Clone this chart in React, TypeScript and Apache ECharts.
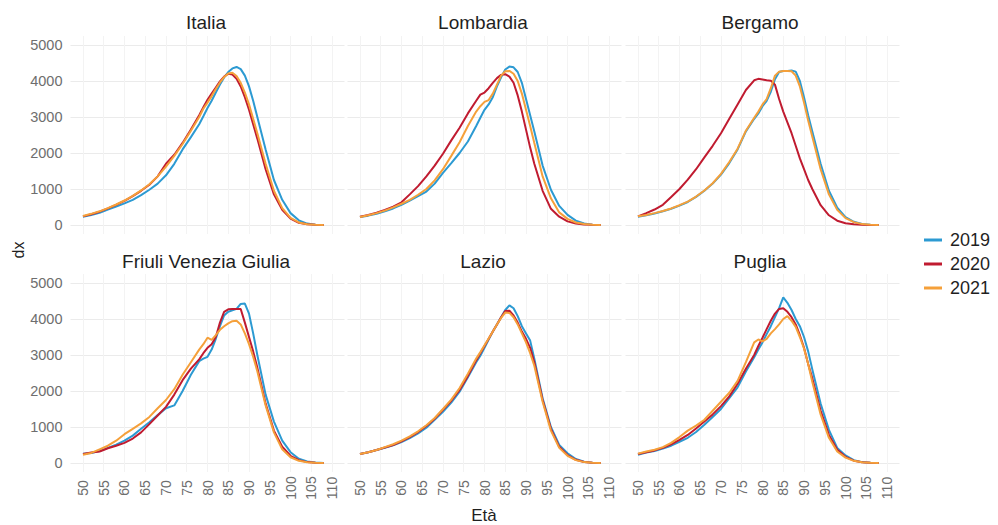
import React, { useEffect, useRef } from "react";
import * as echarts from "echarts";

// ages at which values were read (1-year steps around the peak)
const ages = [50, 52, 54, 56, 58, 60, 62, 64, 66, 68, 70, 72, 74, 76, 78, 79, 80, 81, 82, 83, 84, 85, 86, 87, 88, 89, 90, 91, 92, 94, 96, 98, 100, 102, 104, 106, 108];
const regions = ["Italia", "Lombardia", "Bergamo", "Friuli Venezia Giulia", "Lazio", "Puglia"];
const years = ["2019", "2020", "2021"];
const yearColors = ["#2c9ad2", "#c01b30", "#f5a03a"];
const xTicks = [50, 55, 60, 65, 70, 75, 80, 85, 90, 95, 100, 105, 110];
const yTicks = [0, 1000, 2000, 3000, 4000, 5000];

const italia2019 = [230, 280, 340, 430, 510, 600, 700, 830, 980, 1150, 1380, 1700, 2100, 2440, 2800, 3020, 3250, 3450, 3680, 3900, 4100, 4250, 4350, 4390, 4330, 4150, 3850, 3450, 3000, 2100, 1250, 700, 330, 130, 40, 10, 3];
const italia2020 = [240, 300, 370, 460, 560, 670, 800, 950, 1120, 1350, 1700, 1950, 2280, 2650, 3050, 3270, 3480, 3650, 3820, 3990, 4120, 4200, 4180, 4060, 3850, 3550, 3200, 2800, 2400, 1550, 850, 420, 180, 60, 20, 5, 2];
const italia2021 = [250, 310, 380, 470, 570, 680, 810, 960, 1130, 1350, 1620, 1920, 2250, 2620, 3000, 3230, 3400, 3580, 3780, 3960, 4110, 4210, 4230, 4140, 3950, 3680, 3350, 2950, 2550, 1700, 950, 470, 200, 70, 20, 5, 2];

const lombardia2019 = [220, 260, 310, 380, 460, 560, 680, 800, 930, 1150, 1450, 1720, 2000, 2320, 2750, 2980, 3200, 3350, 3550, 3850, 4100, 4320, 4400, 4380, 4250, 3950, 3500, 3050, 2600, 1650, 980, 530, 280, 120, 40, 10, 3];
const lombardia2020 = [230, 280, 340, 420, 510, 630, 850, 1080, 1350, 1650, 1980, 2350, 2700, 3100, 3450, 3620, 3680, 3800, 3950, 4080, 4170, 4190, 4120, 3950, 3600, 3150, 2650, 2150, 1700, 950, 450, 230, 100, 40, 12, 4, 1];
const lombardia2021 = [220, 270, 330, 400, 490, 590, 700, 840, 1000, 1240, 1550, 1920, 2300, 2750, 3150, 3300, 3420, 3470, 3650, 3900, 4150, 4270, 4280, 4200, 4000, 3650, 3200, 2750, 2280, 1350, 740, 350, 170, 70, 25, 8, 2];

const bergamo2019 = [230, 270, 320, 380, 450, 540, 640, 780, 950, 1150, 1400, 1720, 2100, 2600, 2950, 3100, 3300, 3450, 3700, 4050, 4250, 4280, 4280, 4290, 4260, 4000, 3550, 3050, 2600, 1700, 950, 480, 220, 90, 30, 10, 3];
const bergamo2020 = [240, 330, 430, 560, 780, 1000, 1260, 1550, 1880, 2200, 2550, 2950, 3350, 3750, 4020, 4060, 4040, 4020, 4010, 3900, 3500, 3150, 2850, 2550, 2200, 1850, 1550, 1250, 1000, 550, 270, 120, 50, 20, 8, 3, 1];
const bergamo2021 = [240, 280, 330, 390, 460, 550, 650, 790, 960, 1160, 1420, 1750, 2120, 2620, 2980, 3150, 3350, 3500, 3800, 4150, 4260, 4280, 4280, 4270, 4150, 3850, 3400, 2900, 2450, 1550, 850, 420, 190, 80, 25, 8, 2];

const friuli2019 = [260, 280, 330, 420, 510, 620, 760, 950, 1130, 1330, 1520, 1600, 2000, 2450, 2830, 2900, 2950, 3150, 3450, 3800, 4100, 4200, 4240, 4280, 4420, 4430, 4150, 3600, 3000, 1900, 1150, 620, 300, 120, 40, 12, 3];
const friuli2020 = [250, 290, 320, 410, 480, 560, 680, 850, 1080, 1320, 1560, 1900, 2300, 2620, 2880, 3050, 3200, 3300, 3500, 3900, 4200, 4270, 4280, 4280, 4280, 3900, 3500, 3100, 2650, 1650, 900, 450, 200, 80, 25, 8, 2];
const friuli2021 = [230, 280, 380, 480, 620, 800, 950, 1100, 1280, 1520, 1750, 2050, 2450, 2800, 3150, 3300, 3480, 3420, 3550, 3700, 3800, 3880, 3940, 3950, 3850, 3600, 3300, 2950, 2550, 1600, 850, 380, 160, 60, 20, 6, 2];

const lazio2019 = [250, 300, 360, 420, 490, 580, 690, 820, 980, 1200, 1420, 1680, 1980, 2380, 2800, 2980, 3200, 3430, 3650, 3850, 4050, 4250, 4380, 4300, 4080, 3800, 3600, 3400, 2900, 1800, 1000, 500, 270, 110, 35, 10, 3];
const lazio2020 = [250, 300, 360, 430, 500, 600, 720, 860, 1030, 1230, 1480, 1730, 2030, 2420, 2850, 3050, 3250, 3450, 3650, 3850, 4050, 4220, 4230, 4100, 3900, 3650, 3450, 3200, 2800, 1750, 950, 450, 220, 90, 30, 8, 2];
const lazio2021 = [250, 300, 360, 440, 520, 620, 740, 880, 1050, 1250, 1500, 1760, 2080, 2480, 2900, 3080, 3270, 3460, 3650, 3850, 4030, 4180, 4170, 4050, 3850, 3600, 3350, 3050, 2700, 1700, 900, 420, 200, 80, 25, 7, 2];

const puglia2019 = [230, 290, 330, 400, 480, 590, 700, 860, 1060, 1280, 1500, 1800, 2100, 2540, 2940, 3150, 3350, 3580, 3800, 4050, 4300, 4600, 4450, 4250, 4000, 3800, 3500, 3100, 2600, 1650, 920, 420, 210, 80, 25, 7, 2];
const puglia2020 = [250, 300, 350, 420, 520, 640, 780, 960, 1150, 1350, 1580, 1850, 2200, 2620, 3000, 3250, 3480, 3720, 3950, 4150, 4280, 4300, 4200, 4050, 3850, 3550, 3200, 2750, 2350, 1450, 780, 370, 170, 65, 20, 6, 2];
const puglia2021 = [260, 320, 370, 440, 560, 720, 900, 1040, 1200, 1450, 1700, 1950, 2280, 2800, 3350, 3430, 3380, 3450, 3600, 3720, 3850, 4000, 4080, 3950, 3780, 3500, 3180, 2750, 2250, 1350, 700, 320, 150, 60, 20, 6, 2];

const panelData = [
  [italia2019, italia2020, italia2021],
  [lombardia2019, lombardia2020, lombardia2021],
  [bergamo2019, bergamo2020, bergamo2021],
  [friuli2019, friuli2020, friuli2021],
  [lazio2019, lazio2020, lazio2021],
  [puglia2019, puglia2020, puglia2021],
];

const FONT = "Liberation Sans";

export default function App() {
  const ref = useRef<HTMLDivElement>(null);
  useEffect(() => {
    if (!ref.current) return;
    const chart = echarts.init(ref.current, null, { renderer: "svg" });
    const colLefts = [70.5, 347.5, 625.5];
    const rowTops = [36, 274];
    const W = 274;
    const H = 198;
    const titleX = [206, 483, 760];
    const titleY = [22, 261];
    const grid: any[] = [];
    const xAxis: any[] = [];
    const yAxis: any[] = [];
    const series: any[] = [];
    const graphic: any[] = [];
    regions.forEach((name, i) => {
      const r = Math.floor(i / 3);
      const c = i % 3;
      grid.push({ left: colLefts[c], top: rowTops[r], width: W, height: H, containLabel: false, outerBoundsMode: "none" });
      xAxis.push({
        gridIndex: i,
        type: "value",
        min: 47,
        max: 113,
        axisLine: { show: false },
        axisTick: { show: false, customValues: xTicks },
        axisLabel: {
          show: r === 1,
          customValues: xTicks,
          formatter: (v: number) => String(v),
          rotate: 90,
          align: "center",
          verticalAlign: "middle",
          margin: 16,
          color: "#6e6e6e",
          fontSize: 14,
          fontFamily: FONT,
        },
        splitLine: { show: true, lineStyle: { color: "#f3f3f3", width: 1 } },
      });
      yAxis.push({
        gridIndex: i,
        type: "value",
        min: -250,
        max: 5250,
        axisLine: { show: false },
        axisTick: { show: false, customValues: yTicks },
        axisLabel: {
          show: c === 0,
          customValues: yTicks,
          formatter: (v: number) => String(v),
          margin: 8,
          color: "#6e6e6e",
          fontSize: 14.5,
          fontFamily: FONT,
        },
        splitLine: { show: true, lineStyle: { color: "#ebebeb", width: 1 } },
      });
      years.forEach((yr, k) => {
        series.push({
          type: "line",
          name: yr,
          xAxisIndex: i,
          yAxisIndex: i,
          data: ages.map((a, j) => [a, panelData[i][k][j]]),
          showSymbol: false,
          symbol: "none",
          lineStyle: { width: 2, color: yearColors[k] },
          itemStyle: { color: yearColors[k] },
          z: 2 + k,
        });
      });
      graphic.push({
        type: "text",
        x: titleX[c],
        y: titleY[r],
        style: {
          text: name,
          fill: "#1f1f1f",
          fontSize: 19,
          fontFamily: FONT,
          align: "center",
          verticalAlign: "middle",
        },
      });
    });
    graphic.push({
      type: "text",
      x: 18,
      y: 250,
      rotation: Math.PI / 2,
      style: { text: "dx", fill: "#1f1f1f", fontSize: 16, fontFamily: FONT, align: "center", verticalAlign: "middle" },
    });
    graphic.push({
      type: "text",
      x: 484,
      y: 515,
      style: { text: "Età", fill: "#1f1f1f", fontSize: 17, fontFamily: FONT, align: "center", verticalAlign: "middle" },
    });
    chart.setOption({
      animation: false,
      backgroundColor: "#ffffff",
      grid,
      xAxis,
      yAxis,
      series,
      graphic,
      legend: {
        data: years,
        orient: "vertical",
        left: 919,
        top: 226,
        icon: "rect",
        itemWidth: 18,
        itemHeight: 3,
        itemGap: 6,
        textStyle: { fontSize: 18, color: "#1f1f1f", fontFamily: FONT, padding: [0, 0, 0, 3] },
      },
    });
    return () => chart.dispose();
  }, []);
  return (
    <div
      ref={ref}
      style={{ position: "fixed", left: 0, top: 0, width: 998, height: 525, background: "#fff" }}
    />
  );
}
